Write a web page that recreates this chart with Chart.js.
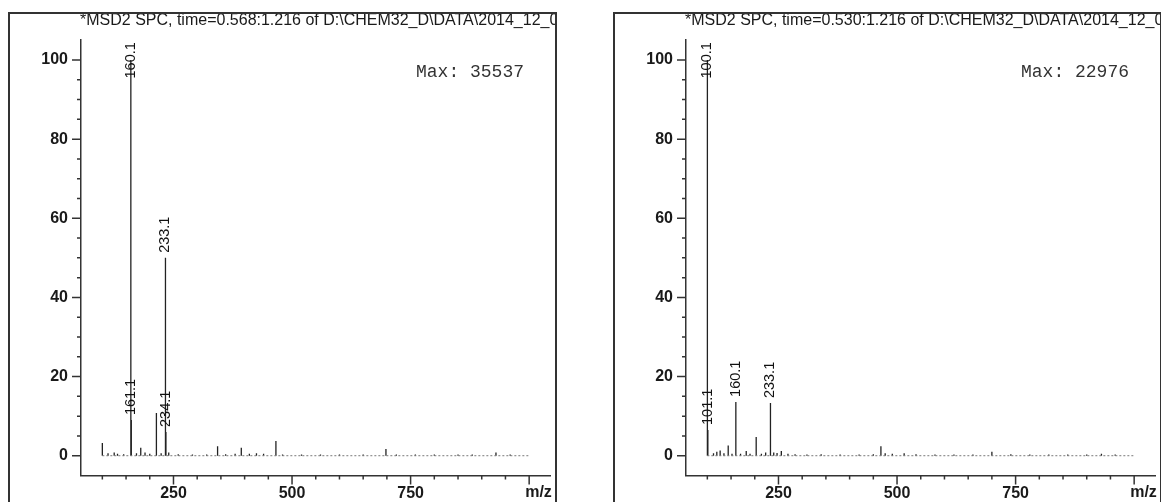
<!DOCTYPE html>
<html>
<head>
<meta charset="utf-8">
<script src="https://cdn.jsdelivr.net/npm/chart.js@4.4.1/dist/chart.umd.min.js"></script>
<style>
html, body { margin: 0; padding: 0; background: #fff; overflow: hidden; }
body { width: 1161px; height: 502px; position: relative; }
.panel { position: absolute; top: 0; width: 548px; height: 502px; }
.frame { position: absolute; top: 12px; width: 549px; height: 500px; box-sizing: border-box;
         border: 2px solid #333; border-bottom: none; pointer-events: none; }
</style>
</head>
<body>
<div class="panel" style="left:8px"><canvas id="specLeft"></canvas></div>
<div class="frame" style="left:8px"></div>
<div class="panel" style="left:613px"><canvas id="specRight"></canvas></div>
<div class="frame" style="left:613px"></div>

<script>
// ---- axis ticks ----
const X_TICK_VALUES = [100, 150, 200, 250, 300, 350, 400, 450, 500, 550, 600, 650, 700, 750, 800, 850, 900, 950, 1000];
const X_LABELED = [250, 500, 750];
const X_MAJOR = [250, 500, 750, 1000];
const Y_TICK_VALUES = [0, 5, 10, 15, 20, 25, 30, 35, 40, 45, 50, 55, 60, 65, 70, 75, 80, 85, 90, 95, 100];
const Y_LABELED = [0, 20, 40, 60, 80, 100];
const SCAN_RANGE = [100, 1000];

// ---- left spectrum (time 0.568) ----
const LEFT_TITLE = '*MSD2 SPC, time=0.568:1.216 of D:\\CHEM32_D\\DATA\\2014_12_0';
const LEFT_MAX = 'Max: 35537';
const LEFT_MZ = [100, 112, 125, 132, 145, 160.1, 161.1, 172, 181, 190, 200, 214, 224, 233.1, 234.1, 240,
                 260, 290, 320, 343, 360, 380, 393, 410, 425, 440, 466, 480, 520, 560, 600, 650,
                 698, 720, 760, 800, 850, 880, 930, 960];
const LEFT_INT = [3.2, 0.6, 0.8, 0.5, 0.4, 100, 9, 0.6, 2.0, 0.8, 0.5, 10.8, 0.6, 50, 6, 0.8,
                  0.4, 0.3, 0.3, 2.4, 0.4, 0.5, 2.0, 0.5, 0.6, 0.5, 3.7, 0.3, 0.3, 0.3, 0.3, 0.3,
                  1.7, 0.3, 0.3, 0.3, 0.3, 0.3, 0.8, 0.3];
const LEFT_LABELED = [160.1, 161.1, 233.1, 234.1];

// ---- right spectrum (time 0.530) ----
const RIGHT_TITLE = '*MSD2 SPC, time=0.530:1.216 of D:\\CHEM32_D\\DATA\\2014_12_0';
const RIGHT_MAX = 'Max: 22976';
const RIGHT_MZ = [100.1, 101.1, 113, 120, 127, 135, 144, 152, 160.1, 170, 182, 190, 203, 214, 223, 233.1,
                  240, 247, 256, 270, 285, 310, 340, 380, 420, 450, 466, 475, 490, 515, 540, 580,
                  620, 660, 700, 740, 780, 820, 860, 900, 931, 960];
const RIGHT_INT = [100, 6.5, 0.6, 1.0, 1.3, 0.6, 2.6, 0.5, 13.6, 0.5, 1.2, 0.5, 4.7, 0.5, 0.8, 13.3,
                   0.8, 0.7, 1.2, 0.5, 0.4, 0.3, 0.4, 0.3, 0.3, 0.4, 2.4, 0.6, 0.5, 0.6, 0.4, 0.3,
                   0.3, 0.3, 1.0, 0.4, 0.3, 0.3, 0.3, 0.3, 0.5, 0.3];
const RIGHT_LABELED = [100.1, 101.1, 160.1, 233.1];

Chart.defaults.font.family = '"Liberation Sans", Arial, sans-serif';
Chart.defaults.color = '#1a1a1a';

// draws minor/major tick marks, peak labels, title, Max text and m/z
const spectrumDecor = {
    id: 'spectrumDecor',
    afterDraw: (chart) => {
        const opts = chart.config.options.plugins.spectrumDecor;
        if (!opts) return;
        const ctx = chart.ctx;
        const xs = chart.scales.x;
        const ys = chart.scales.y;
        const a = chart.chartArea;

        ctx.save();
        ctx.strokeStyle = '#333';
        ctx.lineWidth = 1.5;
        ctx.beginPath();
        X_TICK_VALUES.forEach(v => {
            const px = xs.getPixelForValue(v);
            const len = X_MAJOR.includes(v) ? 9 : 4;
            ctx.moveTo(px, a.bottom);
            ctx.lineTo(px, a.bottom + len);
        });
        Y_TICK_VALUES.forEach(v => {
            const py = ys.getPixelForValue(v);
            const len = Y_LABELED.includes(v) ? 9 : 4;
            ctx.moveTo(a.left, py);
            ctx.lineTo(a.left - len, py);
        });
        ctx.stroke();

        // m/z at the end of the x axis
        ctx.fillStyle = '#1a1a1a';
        ctx.font = 'bold 16px "Liberation Sans", Arial, sans-serif';
        ctx.textAlign = 'left';
        ctx.textBaseline = 'middle';
        ctx.fillText('m/z', xs.getPixelForValue(1000) - 4, a.bottom + 17);

        // title
        ctx.font = '16px "Liberation Sans", Arial, sans-serif';
        ctx.fillText(opts.title, a.left - 1, 21);

        // Max:
        ctx.font = '18px "Liberation Mono", "Courier New", monospace';
        ctx.fillStyle = '#333';
        ctx.textAlign = 'right';
        ctx.fillText(opts.max, 516, 72);

        // peak labels, rotated
        ctx.font = '14.5px "Liberation Sans", Arial, sans-serif';
        ctx.fillStyle = '#111';
        ctx.textAlign = 'left';
        opts.labeled.forEach(mz => {
            const i = opts.mz.indexOf(mz);
            if (i < 0) return;
            const txt = mz.toFixed(1);
            const w = ctx.measureText(txt).width;
            const px = xs.getPixelForValue(mz);
            let base = ys.getPixelForValue(opts.intensity[i]) - 5;
            if (base - w < a.top + 2) base = a.top + 2 + w;
            ctx.save();
            ctx.translate(px, base);
            ctx.rotate(-Math.PI / 2);
            ctx.fillText(txt, 0, 0);
            ctx.restore();
        });
        ctx.restore();
    }
};

function stickData(mzs, ints) {
    const pts = [];
    mzs.forEach((m, i) => {
        pts.push({ x: m, y: 0 }, { x: m, y: ints[i] }, { x: m, y: null });
    });
    return pts;
}

function makeSpectrum(canvasId, title, max, mzs, ints, labeled) {
    const ctxMain = document.getElementById(canvasId).getContext('2d');
    return new Chart(ctxMain, {
        type: 'line',
        data: {
            datasets: [
                { label: 'baseline', data: SCAN_RANGE.map(v => ({ x: v, y: 0 })), borderColor: '#7a7a7a',
                  borderWidth: 1, borderDash: [2, 2], pointRadius: 0 },
                { label: 'spectrum', data: stickData(mzs, ints), borderColor: '#222',
                  borderWidth: 1.3, pointRadius: 0, spanGaps: false, tension: 0 }
            ]
        },
        options: {
            responsive: true, maintainAspectRatio: false, animation: false,
            layout: { padding: { top: 40.2, right: 5.5, left: 0, bottom: 0 } },
            plugins: {
                legend: { display: false },
                tooltip: { enabled: false },
                spectrumDecor: { title: title, max: max, mz: mzs, intensity: ints, labeled: labeled }
            },
            scales: {
                x: {
                    type: 'linear', min: 55, max: 1045,
                    afterBuildTicks: s => { s.ticks = X_LABELED.map(v => ({ value: v })); },
                    afterFit: s => { s.height = 26.5; },
                    grid: { display: false, drawTicks: false },
                    border: { display: true, color: '#333', width: 1.5 },
                    ticks: { autoSkip: false, maxRotation: 0, padding: 8, font: { size: 16, weight: 'bold' }, color: '#1a1a1a' }
                },
                y: {
                    min: -5, max: 105,
                    afterBuildTicks: s => { s.ticks = Y_LABELED.map(v => ({ value: v })); },
                    afterFit: s => { s.width = 73; },
                    grid: { display: false, drawTicks: false },
                    border: { display: true, color: '#333', width: 1.5 },
                    ticks: { padding: 13, font: { size: 16, weight: 'bold' }, color: '#1a1a1a' }
                }
            }
        },
        plugins: [spectrumDecor]
    });
}

makeSpectrum('specLeft', LEFT_TITLE, LEFT_MAX, LEFT_MZ, LEFT_INT, LEFT_LABELED);
makeSpectrum('specRight', RIGHT_TITLE, RIGHT_MAX, RIGHT_MZ, RIGHT_INT, RIGHT_LABELED);
</script>
</body>
</html>
